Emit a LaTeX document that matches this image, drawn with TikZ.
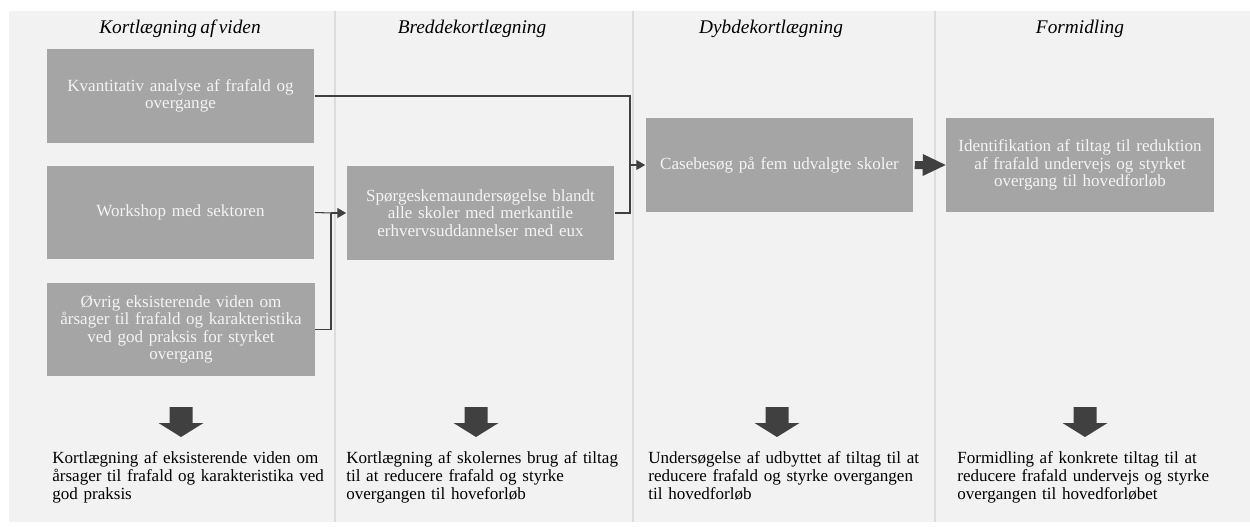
\documentclass[tikz,border=0pt]{standalone}
\usepackage{fontspec}
\setmainfont{Liberation Serif}[WordSpace=0.7]
\usetikzlibrary{arrows.meta}

\definecolor{fond}{HTML}{F2F2F2}
\definecolor{trait}{HTML}{DCDCDC}
\definecolor{boite}{HTML}{A5A5A5}
\definecolor{texteboite}{HTML}{F4F4F4}
\definecolor{fleche}{HTML}{404040}

\tikzset{
  etape/.style={fill=boite, text=texteboite, minimum width=5.36cm, minimum height=1.88cm,
    text width=5.3cm, align=center, inner sep=0pt, font=\fontsize{9.7}{9.9}\selectfont},
  titre/.style={anchor=base, font=\fontsize{11}{12}\selectfont\itshape},
  resultat/.style={anchor=base west, text width=5.9cm, align=left, inner sep=0pt,
    font=\fontsize{9.7}{10.5}\selectfont},
  lien/.style={draw=fleche, line width=0.6pt},
  bout/.style={-{Triangle[length=5pt,width=5.6pt]}}
}

\begin{document}
\begin{tikzpicture}[x=0.02cm,y=-0.02cm]
\useasboundingbox (0,0) rectangle (1250,527);

\fill[fond] (9,11) rectangle (1250,522);
\foreach \x in {335,633,935} % separations des colonnes
	\draw[trait, line width=0.85pt] (\x,11) -- (\x,522);

\node[titre] (tKort) at (180,34) {Kortlægning af viden};
\node[titre] (tBredde) at (472,34) {Breddekortlægning};
\node[titre] (tDybde) at (771,34) {Dybdekortlægning};
\node[titre] (tFormid) at (1080,34) {Formidling};

\node[etape] (kvant) at (180.5,96) {Kvantitativ analyse af frafald og\\overgange};
\node[etape] (workshop) at (180.5,212.5) {Workshop med sektoren};
\node[etape] (oevrig) at (181,329.5) {Øvrig eksisterende viden om\\årsager til frafald og karakteristika\\ved god praksis for styrket\\overgang};
\node[etape] (spoerg) at (480.5,213) {Spørgeskemaundersøgelse blandt\\alle skoler med merkantile\\erhvervsuddannelser med eux};
\node[etape] (case) at (779.5,165) {Casebesøg på fem udvalgte skoler};
\node[etape] (ident) at (1080,165) {Identifikation af tiltag til reduktion\\af frafald undervejs og styrket\\overgang til hovedforløb};

\coordinate (jD) at (331,213);
\coordinate (jE) at (630,165);

\draw[lien] (workshop.east) -- (jD);
\draw[lien] (oevrig.east) -| (jD);
\draw[lien,bout] (jD) -- (spoerg.west);

\draw[lien] (kvant.east) -| (jE);
\draw[lien] (spoerg.east) -| (jE);
\draw[lien,bout] (jE) -- (case.west);

% grosse fleche vers la derniere etape
\fill[fleche] (case.east) ++(1,-4) -- ++(8,0) -- ++(0,-7) -- (ident.west) -- ++(-23,11) -- ++(0,-7) -- ++(-8,0) -- cycle;

\foreach \c in {181,476,777,1085} % fleches vers les resultats
	\fill[fleche] (\c-11.5,407) -- (\c+11.5,407) -- (\c+11.5,423) -- (\c+22.5,423) -- (\c,437) -- (\c-22.5,423) -- (\c-11.5,423) -- cycle;

\node[resultat] (res1) at (52,463) {Kortlægning af eksisterende viden om\\årsager til frafald og karakteristika ved\\god praksis};
\node[resultat] (res2) at (346,463) {Kortlægning af skolernes brug af tiltag\\til at reducere frafald og styrke\\overgangen til hoveforløb};
\node[resultat] (res3) at (648,463) {Undersøgelse af udbyttet af tiltag til at\\reducere frafald og styrke overgangen\\til hovedforløb};
\node[resultat] (res4) at (957,463) {Formidling af konkrete tiltag til at\\reducere frafald undervejs og styrke\\overgangen til hovedforløbet};

\end{tikzpicture}
\end{document}
